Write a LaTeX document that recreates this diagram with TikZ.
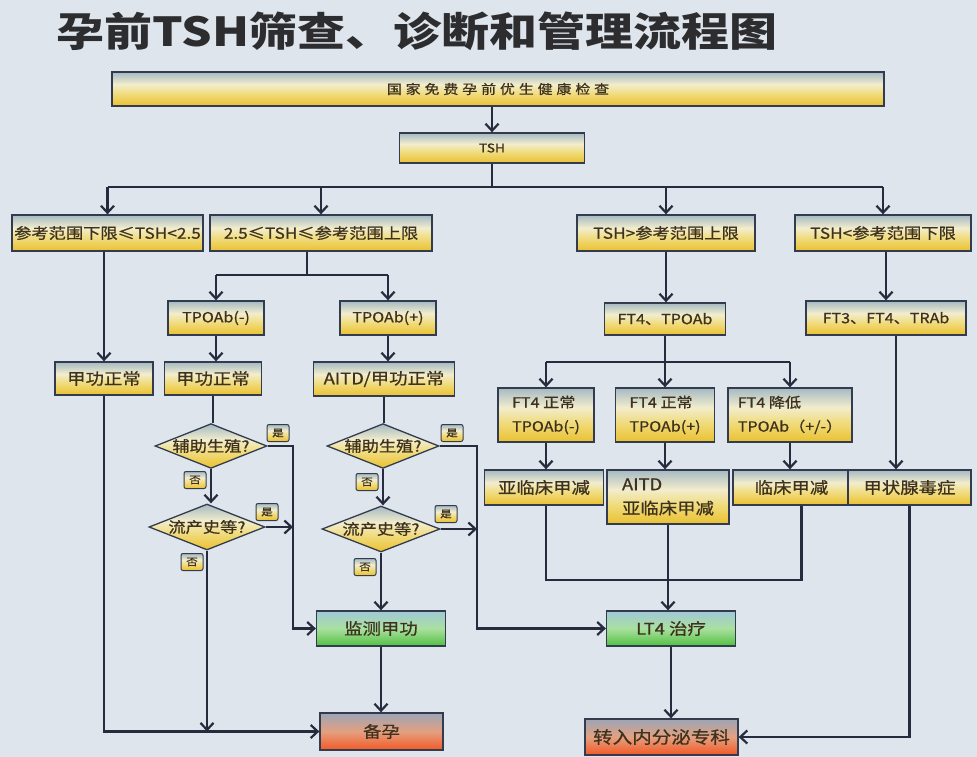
\documentclass[tikz,border=0pt]{standalone}
\usepackage{fontspec}
\setmainfont[FakeStretch=1.15]{Noto Sans CJK SC}
\newfontfamily\cjk[FakeStretch=1.15,FakeBold=0.8]{Noto Sans CJK SC}
\newfontfamily\cjkwide[FakeStretch=1.15,FakeBold=0.8,LetterSpace=30]{Noto Sans CJK SC}
\newfontfamily\cjktitle[FakeStretch=1.2]{Noto Sans CJK SC}
\usetikzlibrary{arrows.meta,shapes.geometric}
\definecolor{bgcol}{RGB}{222,229,237}
\definecolor{boxline}{RGB}{50,60,78}
\definecolor{lincol}{RGB}{38,44,62}
\definecolor{txtcol}{RGB}{62,50,30}
\definecolor{ytop}{RGB}{165,185,195}
\definecolor{ymid}{RGB}{242,237,205}
\definecolor{ylow}{RGB}{240,218,120}
\definecolor{ybot}{RGB}{234,192,48}
\definecolor{gtop}{RGB}{160,200,215}
\definecolor{gmid}{RGB}{170,224,160}
\definecolor{gbot}{RGB}{80,192,64}
\definecolor{otop}{RGB}{155,165,182}
\definecolor{omid}{RGB}{228,160,128}
\definecolor{obot}{RGB}{244,88,36}
\pgfdeclareverticalshading{yshade}{100bp}{color(0bp)=(ybot); color(25bp)=(ybot); color(42bp)=(ylow); color(57bp)=(ymid); color(75bp)=(ytop); color(100bp)=(ytop)}
\pgfdeclareverticalshading{gshade}{100bp}{color(0bp)=(gbot); color(25bp)=(gbot); color(50bp)=(gmid); color(75bp)=(gtop); color(100bp)=(gtop)}
\pgfdeclareverticalshading{oshade}{100bp}{color(0bp)=(obot); color(25bp)=(obot); color(50bp)=(omid); color(75bp)=(otop); color(100bp)=(otop)}
\newcommand\fsz[2]{\fontsize{#1}{#2}\selectfont}
\tikzset{
  box/.style={draw=boxline, line width=1.3pt, shading=yshade,
    inner sep=2pt, text=txtcol, font=\cjk\fsz{15}{18}},
  gbox/.style={box, shading=gshade},
  obox/.style={box, shading=oshade},
  dia/.style={diamond, aspect=2.5, draw=boxline, line width=1.3pt, shading=yshade,
    inner sep=0pt, text=txtcol, font=\cjk\fsz{15}{17}},
  tag/.style={draw=boxline, line width=1pt, rounded corners=2pt, shading=yshade,
    minimum width=22pt, minimum height=17pt, inner sep=0pt, text=txtcol,
    font=\cjk\fsz{10}{12}},
  ln/.style={line width=2.5pt, draw=lincol},
  arr/.style={ln, -{Straight Barb[length=7pt,width=13pt,line width=2.2pt]}}
}
\begin{document}
\begin{tikzpicture}[x=1pt,y=-1pt]
\fill[bgcol] (0,0) rectangle (977,757);
\useasboundingbox (0,0) rectangle (977,757);

\node[anchor=west, text={rgb,255:red,45;green,45;blue,48}, font=\cjktitle\bfseries\fsz{40}{44}, inner sep=0pt]
  (title) at (56,31) {孕前TSH筛查、诊断和管理流程图};

% boxes
\node[box, minimum width=772pt, minimum height=34pt, font=\cjkwide\fsz{13}{15}] (top) at (498,89) {国家免费孕前优生健康检查};
\node[box, minimum width=185pt, minimum height=30pt, font=\cjk\fsz{12}{14}] (tsh) at (492,148) {TSH};

\node[box, minimum width=191pt, minimum height=36pt] (A) at (107.5,233) {参考范围下限≤TSH<2.5};
\node[box, minimum width=222pt, minimum height=36pt] (B) at (321,233) {2.5≤TSH≤参考范围上限};
\node[box, minimum width=178pt, minimum height=36pt] (C) at (666,233) {TSH>参考范围上限};
\node[box, minimum width=176pt, minimum height=36pt] (D) at (883,233) {TSH<参考范围下限};

\node[box, minimum width=96pt, minimum height=34pt, font=\cjk\fsz{14}{16}] (tneg) at (216,318) {TPOAb(-)};
\node[box, minimum width=96pt, minimum height=34pt, font=\cjk\fsz{14}{16}] (tpos) at (388,318) {TPOAb(+)};
\node[box, minimum width=121pt, minimum height=32pt, font=\cjk\fsz{14}{16}] (ft4tpo) at (665,319) {FT4、TPOAb};
\node[box, minimum width=160pt, minimum height=34pt, font=\cjk\fsz{14}{16}] (ft3) at (886,318) {FT3、FT4、TRAb};

\node[box, minimum width=98pt, minimum height=33pt, font=\cjk\fsz{16}{18}] (nA) at (104,378.5) {甲功正常};
\node[box, minimum width=97pt, minimum height=33pt, font=\cjk\fsz{16}{18}] (nB) at (213,378.5) {甲功正常};
\node[box, minimum width=141pt, minimum height=34pt, font=\cjk\fsz{16}{18}] (aitd) at (384,379) {AITD/甲功正常};

\node[box, minimum width=96pt, minimum height=54pt, font=\cjk\fsz{14}{24}, align=left] (f1) at (546,415) {FT4 正常\\TPOAb(-)};
\node[box, minimum width=99pt, minimum height=54pt, font=\cjk\fsz{14}{24}, align=left] (f2) at (665,415) {FT4 正常\\TPOAb(+)};
\node[box, minimum width=124pt, minimum height=54pt, font=\cjk\fsz{14}{24}, align=left] (f3) at (790,415) {FT4 降低\\TPOAb（+/-）};

\node[box, minimum width=119pt, minimum height=35pt, font=\cjk\fsz{16}{18}] (s1) at (544,487.5) {亚临床甲减};
\node[box, minimum width=122pt, minimum height=54pt, font=\cjk\fsz{16}{24}, align=left] (s2) at (668,497) {AITD\\亚临床甲减};
\node[box, minimum width=117pt, minimum height=35pt, font=\cjk\fsz{16}{18}] (s3) at (791.5,487.5) {临床甲减};
\node[box, minimum width=123pt, minimum height=35pt, font=\cjk\fsz{16}{18}] (s4) at (909.5,487.5) {甲状腺毒症};

% diamonds
\node[dia, minimum width=108pt, minimum height=44pt] (d1L) at (211,446) {辅助生殖?};
\node[dia, minimum width=116pt, minimum height=46pt] (d2L) at (207,527) {流产史等?};
\node[dia, minimum width=109pt, minimum height=43pt] (d1R) at (383,446) {辅助生殖?};
\node[dia, minimum width=118pt, minimum height=46pt] (d2R) at (381,529) {流产史等?};

\node[gbox, minimum width=129pt, minimum height=35pt, font=\cjk\fsz{16}{18}] (mon) at (381,628.5) {监测甲功};
\node[gbox, minimum width=129pt, minimum height=35pt, font=\cjk\fsz{16}{18}] (lt4) at (671,628.5) {LT4 治疗};
\node[obox, minimum width=123pt, minimum height=37pt, font=\cjk\fsz{16}{18}] (prep) at (381.5,731.5) {备孕};
\node[obox, minimum width=153pt, minimum height=36pt, font=\cjk\fsz{17}{19}] (ref) at (661.5,737) {转入内分泌专科};

% tags
\node[tag] (y1L) at (278,433) {是};
\node[tag] (n1L) at (195,480) {否};
\node[tag] (y2L) at (267,512) {是};
\node[tag] (n2L) at (192,562) {否};
\node[tag] (y1R) at (452,433) {是};
\node[tag] (n1R) at (367,482) {否};
\node[tag] (y2R) at (446,514) {是};
\node[tag] (n2R) at (365,567) {否};

% helper coordinates
\coordinate (bus1) at (492,187);
\coordinate (bus2) at (307,275);
\coordinate (bus3) at (665,362);
\coordinate (bus4) at (546,580);
\coordinate (yL) at (293,0);
\coordinate (yR) at (477,0);

% connectors
\draw[arr] (top.south -| tsh.north) -- (tsh.north);
\draw[ln] (tsh.south -| bus1) -- (bus1);
\draw[ln] (A.north |- bus1) -- (D.north |- bus1);
\draw[arr] (A.north |- bus1) -- (A.north);
\draw[arr] (B.north |- bus1) -- (B.north);
\draw[arr] (C.north |- bus1) -- (C.north);
\draw[arr] (D.north |- bus1) -- (D.north);

\draw[ln] (B.south -| bus2) -- (bus2);
\draw[ln] (tneg.north |- bus2) -- (tpos.north |- bus2);
\draw[arr] (tneg.north |- bus2) -- (tneg.north);
\draw[arr] (tpos.north |- bus2) -- (tpos.north);

\draw[arr] (A.south -| nA.north) -- (nA.north);
\draw[arr] (tneg.south) -- (tneg.south |- nB.north);
\draw[arr] (tpos.south) -- (tpos.south |- aitd.north);

\draw[arr] (C.south) -- (C.south |- ft4tpo.north);
\draw[arr] (ft3.north |- D.south) -- (ft3.north);

\draw[ln] (ft4tpo.south) -- (bus3);
\draw[ln] (f1.north |- bus3) -- (f3.north |- bus3);
\draw[arr] (f1.north |- bus3) -- (f1.north);
\draw[arr] (f2.north |- bus3) -- (f2.north);
\draw[arr] (f3.north |- bus3) -- (f3.north);

\draw[arr] (f1.south) -- (f1.south |- s1.north);
\draw[arr] (f2.south) -- (f2.south |- s2.north);
\draw[arr] (f3.south) -- (f3.south |- s3.north);
\draw[arr] ([xshift=10pt]ft3.south) -- ([xshift=10pt]ft3.south |- s4.north);

\draw[ln] (s1.south -| bus4) |- ([xshift=10pt]s3.south |- bus4) -- ([xshift=10pt]s3.south);
\draw[arr] (s2.south) -- (s2.south |- lt4.north);
\draw[arr] (lt4.south) -- (lt4.south |- ref.north);
\draw[arr] (s4.south) |- (ref.east);

% left diamond column
\draw[ln] (nB.south) -- (nB.south |- d1L.north);
\draw[arr] (d1L.south) -- (d1L.south |- d2L.north);
\draw[arr] (d1L.east) -| (yL |- mon.west) -- (mon.west);
\draw[arr] (d2L.east) -- (d2L.east -| yL);
\draw[arr] (d2L.south) -- (d2L.south |- prep.west);
\draw[arr] (nA.south) |- (prep.west);

% right diamond column
\draw[ln] (aitd.south) -- (aitd.south |- d1R.north);
\draw[arr] (d1R.south) -- (d1R.south |- d2R.north);
\draw[arr] (d1R.east) -| (yR |- lt4.west) -- (lt4.west);
\draw[arr] (d2R.east) -- (d2R.east -| yR);
\draw[arr] (d2R.south) -- (d2R.south |- mon.north);
\draw[arr] (mon.south) -- (mon.south |- prep.north);
\end{tikzpicture}
\end{document}
